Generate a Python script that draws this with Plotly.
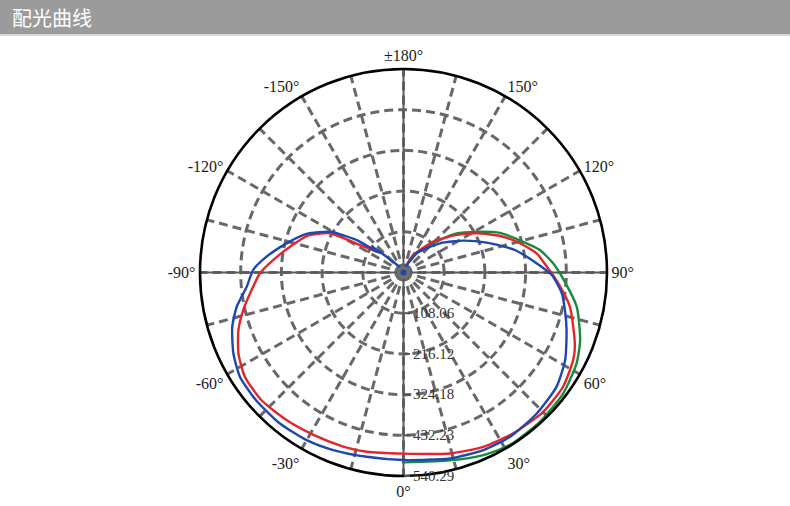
import plotly.graph_objects as go

# ---- data ----
blue_theta = [-180, -150, -135, -129.9, -129.2, -124.8, -119.0, -111.7, -104.0, -96.6, -91.0, -84.8, -78.4,
              -72.4, -64.6, -57.5, -49.2, -39.3, -30.0, -21.6, -11.3, 0.0, 14.1, 24.2, 33.0, 43.4, 53.3,
              61.6, 70.6, 76.9, 82.5, 89.0, 94.0, 101.4, 109.7, 118.0, 128.7, 145.5, 160, 180]
blue_r = [2, 12, 45, 106, 81, 151, 223, 277, 320, 366, 399, 418, 452, 477, 500, 515, 518, 518, 514, 507,
          499, 498, 509, 517, 520, 515, 507, 488, 459, 440, 424, 394, 354, 302, 235, 180, 124, 62, 15, 2]

red_theta = [-127.7, -122.3, -119.4, -117.6, -110.7, -102.8, -95.5, -89.7, -83.4, -76.8, -70.8, -63.9,
             -56.7, -47.8, -38.4, -29.0, -19.1, -11.6, 0.0, 14.4, 24.6, 34.3, 45.1, 54.4, 62.7, 67.1,
             78.4, 86.0, 92.3, 98.2, 104.1, 110.7, 118.2, 125.2, 135.9, 150.8, 165, 180]
red_r = [89, 137, 194, 226, 274, 309, 347, 381, 406, 437, 464, 488, 504, 507, 500, 493, 489, 486, 481,
         496, 509, 517, 524, 521, 507, 494, 451, 412, 381, 357, 319, 274, 220, 173, 114, 53, 12, 2]

green_theta = [0.0, 13.9, 23.6, 31.7, 42.5, 52.9, 62.3, 69.1, 78.8, 86.7, 93.5, 99.4, 103.3, 112.3,
               119.1, 126.4, 131.7, 145.5, 156.9, 170, 180]
green_r = [504, 514, 529, 538, 537, 532, 519, 502, 469, 429, 398, 367, 336, 277, 222, 175, 130, 62,
           22, 5, 2]

r_max = 540.29
radial_ticks = [108.06, 216.12, 324.18, 432.23, 540.29]
radial_labels = ["108.06", "216.12", "324.18", "432.23", "540.29"]
angle_ticks = list(range(0, 360, 15))
angle_label_map = {0: "0°", 30: "30°", 60: "60°", 90: "90°", 120: "120°", 150: "150°",
                   180: "±180°", 210: "-150°", 240: "-120°", 270: "-90°", 300: "-60°", 330: "-30°"}
angle_labels = [angle_label_map.get(a, "") for a in angle_ticks]
title_text = "配光曲线"

GRID = "#686868"
DASH = "9px,5px"
SERIF = "Liberation Serif, Times New Roman, serif"

fig = go.Figure()

# solid axis cross lines
for a, b in ((0, 180), (90, 270)):
    fig.add_trace(go.Scatterpolar(r=[r_max, r_max], theta=[a, b], mode="lines",
                                  line=dict(color="#5a5a5a", width=2), hoverinfo="skip",
                                  showlegend=False))

curve_line = dict(width=2.4, shape="spline", smoothing=0.6)
fig.add_trace(go.Scatterpolar(r=green_r, theta=green_theta, mode="lines",
                              line=dict(color="#178a3c", **curve_line), showlegend=False))
fig.add_trace(go.Scatterpolar(r=red_r, theta=red_theta, mode="lines",
                              line=dict(color="#e3262b", **curve_line), showlegend=False))
fig.add_trace(go.Scatterpolar(r=blue_r, theta=blue_theta, mode="lines",
                              line=dict(color="#1f47b0", **curve_line), showlegend=False))
# center hub
fig.add_trace(go.Scatterpolar(r=[0], theta=[0], mode="markers",
                              marker=dict(color="#6f6f6f", size=13), hoverinfo="skip",
                              showlegend=False))
fig.add_trace(go.Scatterpolar(r=[0], theta=[0], mode="markers",
                              marker=dict(color="#1f47b0", size=6), hoverinfo="skip",
                              showlegend=False))

W, H = 790, 506
cx, cy, R = 403.5, 272.5, 203.5
fig.update_layout(
    width=W, height=H,
    margin=dict(l=0, r=0, t=0, b=0),
    paper_bgcolor="white",
    polar=dict(
        domain=dict(x=[(cx - R) / W, (cx + R) / W], y=[(H - cy - R) / H, (H - cy + R) / H]),
        bgcolor="white",
        angularaxis=dict(
            rotation=-90, direction="counterclockwise",
            tickmode="array", tickvals=angle_ticks, ticktext=angle_labels,
            ticks="", showline=True, linecolor="black", linewidth=2.6,
            showgrid=True, gridcolor=GRID, gridwidth=2.6, griddash=DASH,
            tickfont=dict(family=SERIF, size=16, color="#1a1a1a"),
        ),
        radialaxis=dict(
            angle=-90,
            range=[0, r_max], tickmode="array", tickvals=radial_ticks, ticktext=radial_labels,
            showline=False, ticks="outside", ticklen=6, tickcolor="#555555", tickwidth=1.5,
            showgrid=True, gridcolor=GRID, gridwidth=2.6, griddash=DASH,
            tickfont=dict(family=SERIF, size=15, color="#333333"),
            side="counterclockwise", tickangle=-90,
        ),
    ),
    shapes=[
        dict(type="rect", xref="paper", yref="paper", x0=0, x1=1, y0=1 - 34 / H, y1=1,
             fillcolor="#9b9b9b", line=dict(width=0), layer="below"),
        dict(type="rect", xref="paper", yref="paper", x0=0, x1=1, y0=1 - 36 / H, y1=1 - 34 / H,
             fillcolor="#d8d8d8", line=dict(width=0), layer="below"),
    ],
    annotations=[
        dict(text=title_text, xref="paper", yref="paper", x=10 / W, y=1 - 17 / H,
             xanchor="left", yanchor="middle", showarrow=False,
             font=dict(family="Noto Sans CJK SC", size=20, color="white")),
    ],
)

fig.write_html("out.html", config={"displayModeBar": False},
               post_script="document.body.style.margin='0';")
